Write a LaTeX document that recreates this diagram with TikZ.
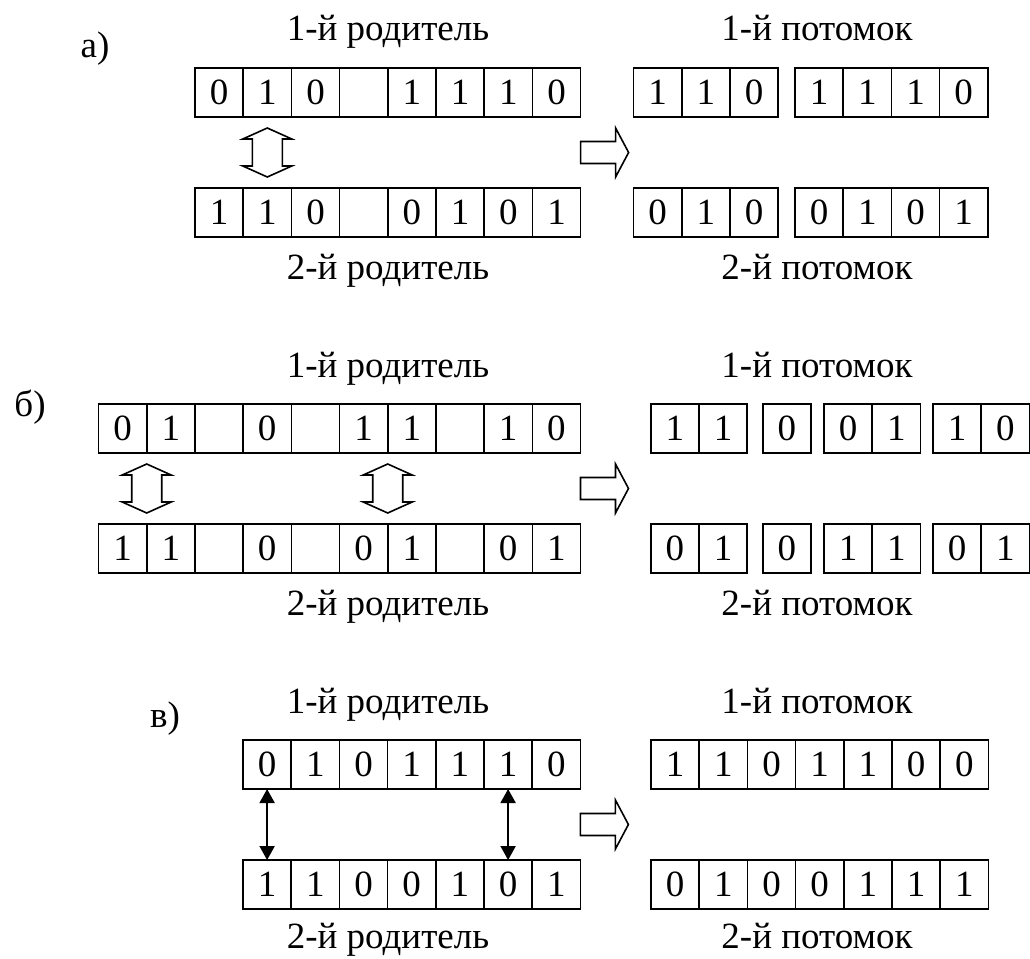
\documentclass[tikz,border=0pt]{standalone}
\usepackage{fontspec}
\setmainfont{Liberation Serif}
\usetikzlibrary{calc,arrows.meta}

\tikzset{
  cell/.style={draw, line width=1.6pt, minimum width=48.2pt, minimum height=49pt,
    inner sep=0pt, outer sep=0pt, anchor=north west, font=\fontsize{37}{44}\selectfont},
  lbl/.style={anchor=base, inner sep=0pt, font=\fontsize{37}{44}\selectfont},
  hollow/.style={draw, line width=1.6pt, fill=white, line join=miter},
  swapline/.style={line width=2pt,
    {Triangle[length=14pt,width=15pt]}-{Triangle[length=14pt,width=15pt]}},
  pics/swaparrow/.style={code={
    \draw[hollow] (0,-24.5) -- (24.5,-13.5) -- (15,-13.5) -- (15,13.5) -- (24.5,13.5)
      -- (0,24.5) -- (-24.5,13.5) -- (-15,13.5) -- (-15,-13.5) -- (-24.5,-13.5) -- cycle;}},
  pics/fwdarrow/.style={code={
    \draw[hollow] (0,-11) -- (35,-11) -- (35,-24.5) -- (48,0) -- (35,24.5) -- (35,11)
      -- (0,11) -- cycle;}},
}

% a row of chromosome cells: name prefix, left x, top y, gene values
\newcommand\genrow[4]{%
  \foreach \v [count=\i] in {#4} {
    \node[cell] (#1-\i) at ({#2+(\i-1)*48.2},#3) {\v};
  }%
}

\begin{document}
\begin{tikzpicture}[x=1pt,y=-1pt]
\useasboundingbox (0,0) rectangle (1030,958);

% ---------- а) one-point crossover ----------
\node[lbl] (ta) at (95,58) {а)};
\node[lbl] (la1) at (388,41) {1-й родитель};
\node[lbl] (la2) at (388,279) {2-й родитель};
\node[lbl] (ka1) at (817,41) {1-й потомок};
\node[lbl] (ka2) at (817,279) {2-й потомок};

\genrow{pa1}{195}{68}{0,1,0,{},1,1,1,0}
\genrow{pa2}{195}{188}{1,1,0,{},0,1,0,1}
\genrow{oa1x}{633.5}{68}{1,1,0}
\genrow{oa1y}{795}{68}{1,1,1,0}
\genrow{oa2x}{633.5}{188}{0,1,0}
\genrow{oa2y}{795}{188}{0,1,0,1}

\pic at ($(pa1-2.south)!0.5!(pa2-2.north)$) {swaparrow};
\pic at ($(pa1-8.south east)!0.5!(pa2-8.north east)$) {fwdarrow};

% ---------- б) multi-point crossover ----------
\node[lbl] (tb) at (30,416) {б)};
\node[lbl] (lb1) at (388,377) {1-й родитель};
\node[lbl] (lb2) at (388,615) {2-й родитель};
\node[lbl] (kb1) at (817,377) {1-й потомок};
\node[lbl] (kb2) at (817,615) {2-й потомок};

\genrow{pb1}{98.5}{404}{0,1,{},0,{},1,1,{},1,0}
\genrow{pb2}{98.5}{524}{1,1,{},0,{},0,1,{},0,1}
\genrow{ob1w}{650.7}{404}{1,1}
\genrow{ob1x}{762.7}{404}{0}
\genrow{ob1y}{824}{404}{0,1}
\genrow{ob1z}{933}{404}{1,0}
\genrow{ob2w}{650.7}{524}{0,1}
\genrow{ob2x}{762.7}{524}{0}
\genrow{ob2y}{824}{524}{1,1}
\genrow{ob2z}{933}{524}{0,1}

\pic at ($(pb1-1.south east)!0.5!(pb2-1.north east)$) {swaparrow};
\pic at ($(pb1-6.south east)!0.5!(pb2-6.north east)$) {swaparrow};
\pic at ($(pb1-10.south east)!0.5!(pb2-10.north east)$) {fwdarrow};

% ---------- в) gene exchange ----------
\node[lbl] (tc) at (165,727) {в)};
\node[lbl] (lc1) at (388,713) {1-й родитель};
\node[lbl] (lc2) at (388,948) {2-й родитель};
\node[lbl] (kc1) at (817,713) {1-й потомок};
\node[lbl] (kc2) at (817,948) {2-й потомок};

\genrow{pc1}{243}{740}{0,1,0,1,1,1,0}
\genrow{pc2}{243}{860}{1,1,0,0,1,0,1}
\genrow{oc1}{651}{740}{1,1,0,1,1,0,0}
\genrow{oc2}{651}{860}{0,1,0,0,1,1,1}

\draw[swapline] (pc1-1.south) -- (pc2-1.north);
\draw[swapline] (pc1-6.south) -- (pc2-6.north);
\pic at ($(pc1-7.south east)!0.5!(pc2-7.north east)$) {fwdarrow};

\end{tikzpicture}
\end{document}
